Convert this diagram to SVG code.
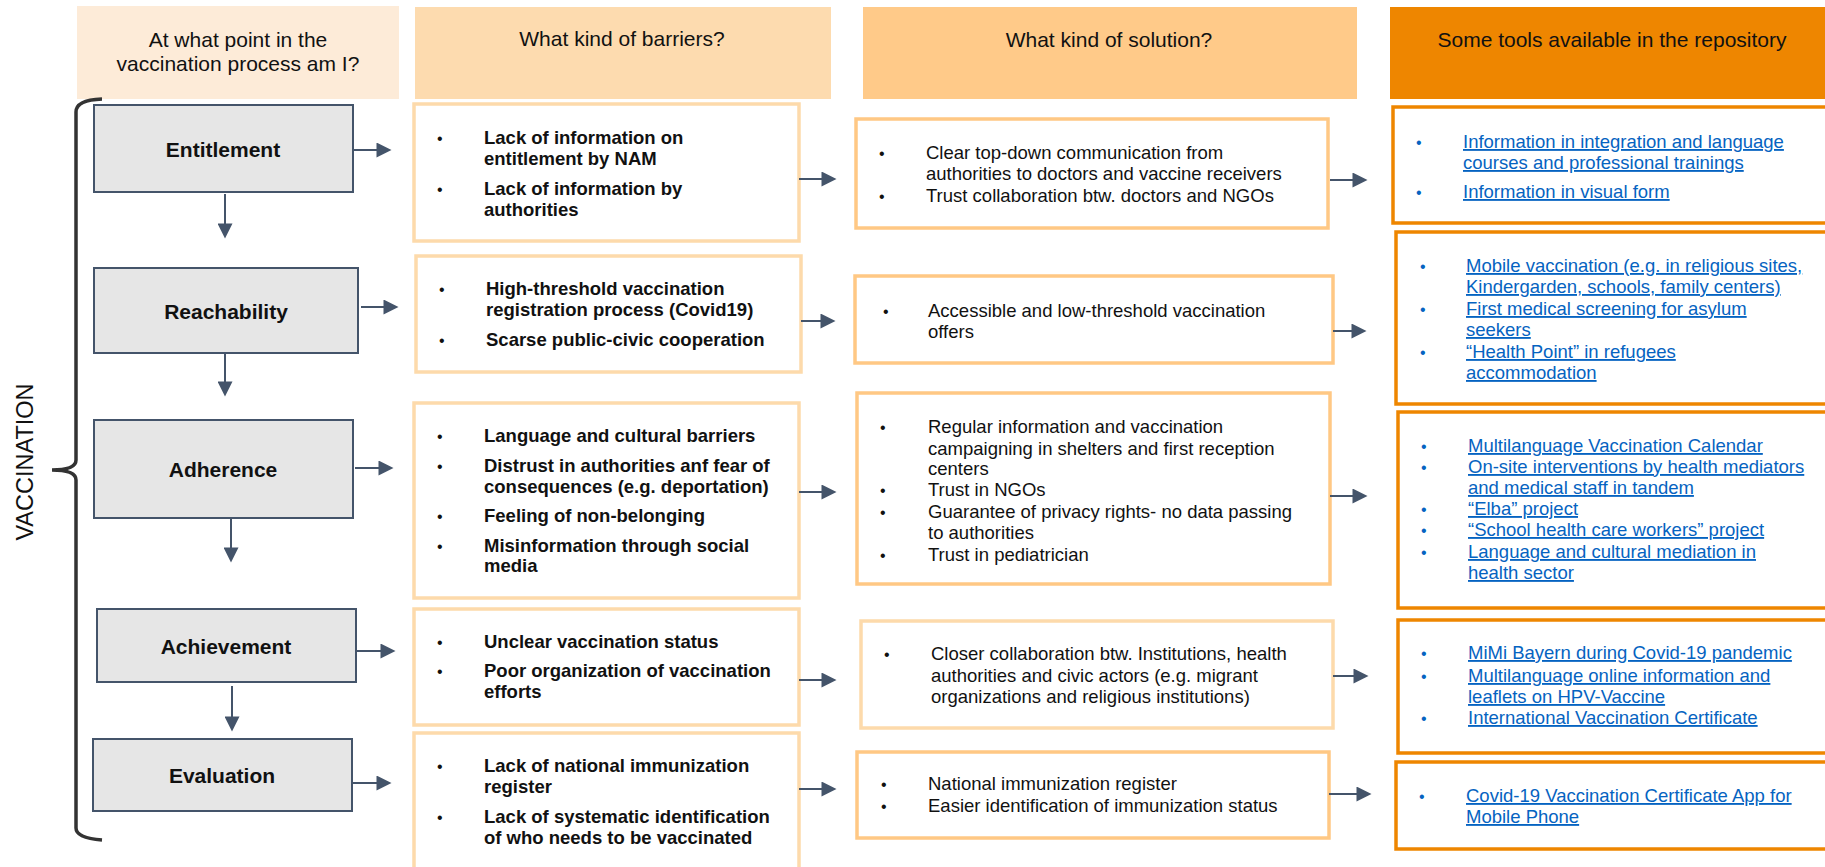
<svg xmlns="http://www.w3.org/2000/svg" width="1825" height="867" viewBox="0 0 1825 867">
<defs>
<marker id="ah" viewBox="0 0 10 10" refX="5" refY="5" markerWidth="16" markerHeight="15" markerUnits="userSpaceOnUse" orient="auto"><path d="M0,0 L10,5 L0,10 z" fill="#44546A"/></marker>
<style>
text{font-family:"Liberation Sans",Arial,sans-serif;fill:#111}
.hd{font-size:21px;text-anchor:middle}
.nd{font-size:21px;font-weight:bold;text-anchor:middle}
.node{fill:#E6E6E6;stroke:#44546A;stroke-width:2}
.bar{fill:#fff;stroke:#FDDAAB;stroke-width:3.5}
.sol{fill:#fff;stroke:#FFC884;stroke-width:3.5}
.sol2{fill:#fff;stroke:#FDDAAB;stroke-width:3.5}
.tool{fill:#fff;stroke:#EE8600;stroke-width:3.5}
.b{font-size:18.5px;font-weight:bold}
.r{font-size:18.5px}
.l{font-size:18.5px;fill:#0563C1;text-decoration:underline}
.bu{font-size:16px}
.bl{font-size:16px;fill:#0563C1}
.arr{stroke:#44546A;stroke-width:2;fill:none;marker-end:url(#ah)}
</style>
</defs>
<rect width="1825" height="867" fill="#fff"/>

<g id="headers">
<rect x="77" y="6" width="322" height="93" fill="#FDEBD8"/>
<text class="hd" x="238" y="47">At what point in the</text>
<text class="hd" x="238" y="71">vaccination process am I?</text>
<rect x="415" y="7" width="416" height="92" fill="#FDDBAF"/>
<text class="hd" x="622" y="46">What kind of barriers?</text>
<rect x="863" y="7" width="494" height="92" fill="#FFCA89"/>
<text class="hd" x="1109" y="47">What kind of solution?</text>
<rect x="1390" y="7" width="440" height="92" fill="#EE8600"/>
<text class="hd" x="1612" y="47">Some tools available in the repository</text>
</g>

<g id="bracket">
<path d="M102,99 Q76,100 76,112 L76,460 Q76,470 52,470 Q76,470 76,480 L76,828 Q76,838 102,840" fill="none" stroke="#333" stroke-width="3.5"/>
<text x="33" y="462" transform="rotate(-90 33 462)" style="font-size:23.5px;text-anchor:middle">VACCINATION</text>
</g>

<g id="node-entitlement"><rect class="node" x="94" y="105" width="259" height="87"/><text class="nd" x="223" y="157">Entitlement</text></g>
<g id="node-reachability"><rect class="node" x="94" y="268" width="264" height="85"/><text class="nd" x="226" y="319">Reachability</text></g>
<g id="node-adherence"><rect class="node" x="94" y="420" width="259" height="98"/><text class="nd" x="223" y="477">Adherence</text></g>
<g id="node-achievement"><rect class="node" x="97" y="609" width="259" height="73"/><text class="nd" x="226" y="654">Achievement</text></g>
<g id="node-evaluation"><rect class="node" x="93" y="739" width="259" height="72"/><text class="nd" x="222" y="783">Evaluation</text></g>

<g id="barrier-1"><rect class="bar" x="414" y="104" width="385" height="137"/>
<text class="bu" x="437" y="144">•</text><text class="b" x="484" y="144">Lack of information on</text>
<text class="b" x="484" y="165">entitlement by NAM</text>
<text class="bu" x="437" y="195">•</text><text class="b" x="484" y="195">Lack of information by</text>
<text class="b" x="484" y="216">authorities</text></g>

<g id="barrier-2"><rect class="bar" x="416" y="256" width="385" height="116"/>
<text class="bu" x="439" y="295">•</text><text class="b" x="486" y="295">High-threshold vaccination</text>
<text class="b" x="486" y="316">registration process (Covid19)</text>
<text class="bu" x="439" y="346">•</text><text class="b" x="486" y="346">Scarse public-civic cooperation</text></g>

<g id="barrier-3"><rect class="bar" x="414" y="403" width="385" height="195"/>
<text class="bu" x="437" y="442">•</text><text class="b" x="484" y="442">Language and cultural barriers</text>
<text class="bu" x="437" y="472">•</text><text class="b" x="484" y="472">Distrust in authorities anf fear of</text>
<text class="b" x="484" y="493">consequences (e.g. deportation)</text>
<text class="bu" x="437" y="522">•</text><text class="b" x="484" y="522">Feeling of non-belonging</text>
<text class="bu" x="437" y="552">•</text><text class="b" x="484" y="552">Misinformation through social</text>
<text class="b" x="484" y="572">media</text></g>

<g id="barrier-4"><rect class="bar" x="414" y="609" width="385" height="116"/>
<text class="bu" x="437" y="648">•</text><text class="b" x="484" y="648">Unclear vaccination status</text>
<text class="bu" x="437" y="677">•</text><text class="b" x="484" y="677">Poor organization of vaccination</text>
<text class="b" x="484" y="698">efforts</text></g>

<g id="barrier-5"><rect class="bar" x="414" y="733" width="385" height="145"/>
<text class="bu" x="437" y="772">•</text><text class="b" x="484" y="772">Lack of national immunization</text>
<text class="b" x="484" y="793">register</text>
<text class="bu" x="437" y="823">•</text><text class="b" x="484" y="823">Lack of systematic identification</text>
<text class="b" x="484" y="844">of who needs to be vaccinated</text></g>

<g id="solution-1"><rect class="sol" x="856" y="119" width="472" height="109"/>
<text class="bu" x="879" y="159">•</text><text class="r" x="926" y="159">Clear top-down communication from</text>
<text class="r" x="926" y="180">authorities to doctors and vaccine receivers</text>
<text class="bu" x="879" y="202">•</text><text class="r" x="926" y="202">Trust collaboration btw. doctors and NGOs</text></g>

<g id="solution-2"><rect class="sol" x="855" y="276" width="478" height="87"/>
<text class="bu" x="883" y="317">•</text><text class="r" x="928" y="317">Accessible and low-threshold vaccination</text>
<text class="r" x="928" y="338">offers</text></g>

<g id="solution-3"><rect class="sol" x="857" y="393" width="473" height="191"/>
<text class="bu" x="880" y="433">•</text><text class="r" x="928" y="433">Regular information and vaccination</text>
<text class="r" x="928" y="455">campaigning in shelters and first reception</text>
<text class="r" x="928" y="475">centers</text>
<text class="bu" x="880" y="496">•</text><text class="r" x="928" y="496">Trust in NGOs</text>
<text class="bu" x="880" y="518">•</text><text class="r" x="928" y="518">Guarantee of privacy rights- no data passing</text>
<text class="r" x="928" y="539">to authorities</text>
<text class="bu" x="880" y="561">•</text><text class="r" x="928" y="561">Trust in pediatrician</text></g>

<g id="solution-4"><rect class="sol2" x="861" y="621" width="472" height="107"/>
<text class="bu" x="884" y="660">•</text><text class="r" x="931" y="660">Closer collaboration btw. Institutions, health</text>
<text class="r" x="931" y="682">authorities and civic actors (e.g. migrant</text>
<text class="r" x="931" y="703">organizations and religious institutions)</text></g>

<g id="solution-5"><rect class="sol" x="857" y="752" width="472" height="86"/>
<text class="bu" x="881" y="790">•</text><text class="r" x="928" y="790">National immunization register</text>
<text class="bu" x="881" y="812">•</text><text class="r" x="928" y="812">Easier identification of immunization status</text></g>

<g id="tools-1"><rect class="tool" x="1393" y="107" width="440" height="116"/>
<text class="bl" x="1416" y="148">•</text><text class="l" x="1463" y="148">Information in integration and language</text>
<text class="l" x="1463" y="169">courses and professional trainings</text>
<text class="bl" x="1416" y="198">•</text><text class="l" x="1463" y="198">Information in visual form</text></g>

<g id="tools-2"><rect class="tool" x="1396" y="232" width="440" height="172"/>
<text class="bl" x="1420" y="272">•</text><text class="l" x="1466" y="272">Mobile vaccination (e.g. in religious sites,</text>
<text class="l" x="1466" y="293">Kindergarden, schools, family centers)</text>
<text class="bl" x="1420" y="315">•</text><text class="l" x="1466" y="315">First medical screening for asylum</text>
<text class="l" x="1466" y="336">seekers</text>
<text class="bl" x="1420" y="358">•</text><text class="l" x="1466" y="358">“Health Point” in refugees</text>
<text class="l" x="1466" y="379">accommodation</text></g>

<g id="tools-3"><rect class="tool" x="1398" y="412" width="440" height="196"/>
<text class="bl" x="1421" y="452">•</text><text class="l" x="1468" y="452">Multilanguage Vaccination Calendar</text>
<text class="bl" x="1421" y="473">•</text><text class="l" x="1468" y="473">On-site interventions by health mediators</text>
<text class="l" x="1468" y="494">and medical staff in tandem</text>
<text class="bl" x="1421" y="515">•</text><text class="l" x="1468" y="515">“Elba” project</text>
<text class="bl" x="1421" y="536">•</text><text class="l" x="1468" y="536">“School health care workers” project</text>
<text class="bl" x="1421" y="558">•</text><text class="l" x="1468" y="558">Language and cultural mediation in</text>
<text class="l" x="1468" y="579">health sector</text></g>

<g id="tools-4"><rect class="tool" x="1398" y="620" width="440" height="133"/>
<text class="bl" x="1421" y="659">•</text><text class="l" x="1468" y="659">MiMi Bayern during Covid-19 pandemic</text>
<text class="bl" x="1421" y="682">•</text><text class="l" x="1468" y="682">Multilanguage online information and</text>
<text class="l" x="1468" y="703">leaflets on HPV-Vaccine</text>
<text class="bl" x="1421" y="724">•</text><text class="l" x="1468" y="724">International Vaccination Certificate</text></g>

<g id="tools-5"><rect class="tool" x="1396" y="762" width="440" height="87"/>
<text class="bl" x="1419" y="802">•</text><text class="l" x="1466" y="802">Covid-19 Vaccination Certificate App for</text>
<text class="l" x="1466" y="823">Mobile Phone</text></g>

<g id="connectors">
<path class="arr" d="M225,194 V231"/>
<path class="arr" d="M225,353 V389"/>
<path class="arr" d="M231,518 V555"/>
<path class="arr" d="M232,686 V724"/>
<path class="arr" d="M353,150 H384"/>
<path class="arr" d="M361,307 H391"/>
<path class="arr" d="M355,468 H386"/>
<path class="arr" d="M357,651 H388"/>
<path class="arr" d="M353,783 H384"/>
<path class="arr" d="M799,179 H829"/>
<path class="arr" d="M801,321 H828"/>
<path class="arr" d="M799,492 H829"/>
<path class="arr" d="M799,680 H829"/>
<path class="arr" d="M799,789 H829"/>
<path class="arr" d="M1330,180 H1360"/>
<path class="arr" d="M1333,331 H1359"/>
<path class="arr" d="M1330,496 H1360"/>
<path class="arr" d="M1333,676 H1361"/>
<path class="arr" d="M1329,794 H1364"/>
</g>
</svg>
